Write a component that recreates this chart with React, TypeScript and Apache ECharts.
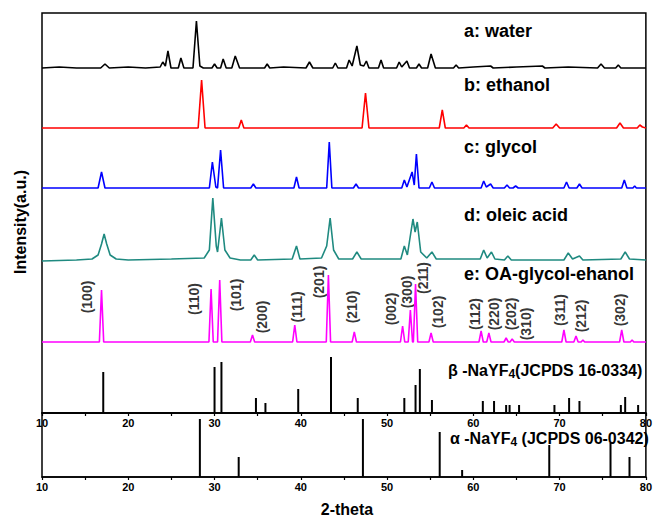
import React, { useEffect, useRef } from "react";
import * as echarts from "echarts";

// ---- Data (2-theta, intensity above each trace's own baseline) ----
const traceNames = ["a: water", "b: ethanol", "c: glycol", "d: oleic acid", "e: OA-glycol-ehanol"];
const traceColors = ["#000000", "#ff0000", "#0000ff", "#1f8a80", "#ff00ff"];
const baselines = [345, 285, 225, 153, 71];

const waterData: number[][] = [
  [10, 0], [12, 1], [14, 0], [16.8, 0], [17.3, 4], [17.8, 0], [20, 1], [22, 0], [23.7, 1], [24.0, 6], [24.3, 2],
  [24.6, 17], [24.95, 0], [25.8, 0], [26.1, 10], [26.45, 0], [27.5, 0], [27.9, 47], [28.3, 2], [28.7, 0],
  [29.7, 0], [30.0, 4], [30.3, 0], [30.7, 0], [31.0, 9], [31.35, 0], [32.0, 0], [32.4, 12], [32.9, 0],
  [35.8, 0], [36.1, 4], [36.4, 0], [38, 1], [40.6, 0], [41.0, 6], [41.4, 0], [43.7, 0], [44.0, 5], [44.3, 0],
  [45.3, 0], [45.6, 8], [45.95, 2], [46.5, 22], [46.9, 3], [47.3, 2], [47.6, 7], [47.9, 0], [49.0, 0],
  [49.3, 8], [49.6, 0], [51.1, 0], [51.4, 6], [51.7, 1], [52.3, 7], [52.6, 0], [53.4, 0], [53.7, 4], [54.0, 0],
  [54.7, 0], [55.1, 14], [55.6, 0], [57.7, 0], [58, 3], [58.3, 0], [60, 1], [62, 2], [62.3, 0], [65, 1],
  [68, 2], [68.3, 0], [71, 1], [74.4, 0], [74.8, 4], [75.2, 0], [76.5, 0], [76.8, 3], [77.1, 0], [80, 0],
];
const ethanolData: number[][] = [
  [10, 0], [28.1, 0], [28.5, 48], [28.9, 0], [32.8, 0], [33.1, 8], [33.4, 0], [47.1, 0], [47.5, 35], [47.9, 0],
  [56.05, 0], [56.4, 18], [56.75, 0], [58.9, 0], [59.2, 3], [59.5, 0], [69.2, 0], [69.6, 4], [70, 0],
  [76.6, 0], [77, 5], [77.4, 0], [79.0, 0], [79.3, 3], [79.6, 1], [80, 0],
];
const glycolData: number[][] = [
  [10, 0], [16.5, 0], [16.9, 16], [17.3, 0], [29.4, 0], [29.75, 26], [30.15, 1], [30.35, 0], [30.7, 38],
  [31.05, 0], [34.2, 0], [34.5, 4], [34.8, 0], [39.2, 0], [39.5, 11], [39.8, 0], [43.0, 0], [43.3, 46],
  [43.6, 0], [46.1, 0], [46.4, 4], [46.7, 0], [51.7, 0], [52.0, 8], [52.3, 1], [52.9, 16], [53.15, 3],
  [53.4, 34], [53.7, 0], [54.9, 0], [55.2, 6], [55.5, 0], [60.9, 0], [61.2, 7], [61.5, 1], [62.0, 4],
  [62.3, 0], [63.6, 0], [63.9, 3], [64.2, 0], [64.6, 0], [64.9, 2], [65.2, 0], [70.5, 0], [70.8, 6],
  [71.1, 0], [72.0, 0], [72.3, 4], [72.6, 0], [77.2, 0], [77.5, 8], [77.8, 0], [78.5, 0], [78.7, 2],
  [78.9, 0], [80, 0],
];
const oleicData: number[][] = [
  [10, -1], [14, 0], [15.8, 1], [16.5, 5], [16.9, 16], [17.2, 26], [17.5, 16], [17.9, 5], [18.6, 1], [20, 0],
  [25, 1], [28.8, 2], [29.4, 10], [29.8, 62], [30.2, 14], [30.35, 8], [30.8, 42], [31.2, 10], [31.8, 2],
  [33, 0], [34.2, 0], [34.6, 5], [35.0, 0], [39.0, 1], [39.5, 14], [39.9, 1], [42.4, 2], [43.0, 14],
  [43.4, 42], [43.8, 10], [44.4, 1], [46.0, 1], [46.5, 8], [47.0, 1], [51.6, 1], [52.0, 14], [52.35, 5],
  [53.0, 41], [53.25, 28], [53.5, 38], [53.9, 8], [54.6, 2], [55.2, 8], [55.7, 1], [60.8, 1], [61.2, 10],
  [61.6, 2], [62.1, 8], [62.5, 1], [63.6, 0], [64.0, 4], [64.4, 0], [70.5, 0], [71.0, 7], [71.5, 1],
  [72.3, 4], [72.7, 0], [77.1, 1], [77.6, 8], [78.1, 1], [80, 0],
];
const oaData: number[][] = [
  [10, 0], [16.65, 0], [16.9, 52], [17.15, 0], [29.35, 0], [29.6, 53], [29.85, 0], [30.35, 0], [30.6, 62],
  [30.85, 0], [34.15, 0], [34.4, 7], [34.65, 0], [39.05, 0], [39.3, 17], [39.55, 0], [42.95, 0], [43.2, 67],
  [43.45, 0], [45.95, 0], [46.2, 10], [46.45, 0], [51.55, 0], [51.8, 16], [52.05, 0], [52.45, 0], [52.7, 32],
  [52.95, 0], [53.05, 0], [53.3, 58], [53.55, 0], [54.85, 0], [55.1, 9], [55.35, 0], [60.65, 0], [60.9, 11],
  [61.15, 0], [61.55, 0], [61.8, 9], [62.05, 0], [63.55, 0], [63.8, 4], [64.05, 0], [64.25, 0], [64.5, 3],
  [64.75, 0], [70.25, 0], [70.5, 12], [70.75, 0], [71.65, 0], [71.9, 6], [72.15, 0], [72.5, 0], [72.7, 2],
  [72.9, 0], [76.95, 0], [77.2, 12], [77.45, 0], [78.2, 0], [78.4, 2], [78.6, 0], [80, 0],
];
const traces = [waterData, ethanolData, glycolData, oleicData, oaData];

// beta-NaYF4 reference lines (JCPDS 16-0334)
const betaPos = [17.1, 30.0, 30.8, 34.8, 35.9, 39.7, 43.5, 46.6, 52.0, 53.3, 53.8, 55.2, 61.1, 62.4, 63.8, 64.2, 65.3, 69.4, 71.1, 72.3, 77.1, 77.6, 79.1];
const betaInt = [41, 46, 51, 15, 10, 24, 56, 15, 15, 28, 44, 13, 12, 12, 8, 8, 8, 8, 15, 12, 8, 16, 8];

// alpha-NaYF4 reference lines (JCPDS 06-0342)
const alphaPos = [28.3, 32.8, 47.2, 56.1, 58.7, 68.8, 75.9, 78.1];
const alphaInt = [58, 20, 58, 45, 7, 32, 34, 20];

// Miller index labels and their anchor positions (2-theta, height)
const hklLabels = ["(100)", "(110)", "(101)", "(200)", "(111)", "(201)", "(210)", "(002)", "(300)", "(211)", "(102)", "(112)", "(220)", "(202)", "(310)", "(311)", "(212)", "(302)"];
const hklX = [15.2, 27.6, 32.5, 35.5, 39.6, 42.1, 45.9, 50.4, 52.3, 54.2, 55.9, 60.2, 62.4, 64.4, 66.1, 70.0, 72.5, 77.0];
const hklY = [116, 114, 118, 96, 106, 131, 106, 104, 121, 135, 101, 99, 99, 99, 89, 103, 97, 103];

const xTicks = { min: 10, max: 80, step: 5 };

const FONT = "'Liberation Sans', Arial, Helvetica, sans-serif";

export default function App() {
  const ref = useRef<HTMLDivElement>(null);
  useEffect(() => {
    if (!ref.current) return;
    const chart = echarts.init(ref.current, undefined, { renderer: "svg" });

    const mkX = (gridIndex: number) => ({
      type: "value",
      gridIndex,
      min: xTicks.min,
      max: xTicks.max,
      interval: xTicks.step,
      axisLine: { show: true, lineStyle: { color: "#000", width: 1.5 } },
      axisTick: { show: true, inside: false, length: 3, lineStyle: { color: "#000", width: 1.2 } },
      axisLabel: {
        show: true,
        margin: 4,
        color: "#000",
        fontSize: 11,
        fontWeight: "bold",
        fontFamily: FONT,
        showMinLabel: true,
        showMaxLabel: true,
        formatter: (v: number) => (v % 10 === 0 ? String(v) : ""),
      },
      splitLine: { show: false },
    });
    const mkY = (gridIndex: number, max: number) => ({
      type: "value",
      gridIndex,
      min: 0,
      max,
      axisLine: { show: false },
      axisTick: { show: false },
      axisLabel: { show: false },
      splitLine: { show: false },
    });

    const lineSeries = traces.map((t, i) => ({
      type: "line",
      name: traceNames[i],
      xAxisIndex: 0,
      yAxisIndex: 0,
      data: t.map((p) => [p[0], p[1] + baselines[i]]),
      showSymbol: false,
      symbol: "none",
      lineStyle: { color: traceColors[i], width: 1.6 },
      silent: true,
      z: 3,
    }));

    const textStyle = (text: string, x: number, y: number, size: number) => ({
      type: "text",
      x,
      y,
      style: {
        text,
        fill: "#000",
        fontSize: size,
        fontWeight: "bold",
        fontFamily: FONT,
        verticalAlign: "middle",
        align: "left",
      },
    });

    const labelY = [31, 85, 147, 215, 274];
    const graphics: any[] = traceNames.map((n, i) => textStyle(n, 464, labelY[i], 18));
    const richRef = (main: string, rest: string, x: number, y: number) => ({
      type: "text",
      x,
      y,
      style: {
        text: `{m|${main}}{s|4}{m|${rest}}`,
        fill: "#000",
        fontFamily: FONT,
        fontWeight: "bold",
        verticalAlign: "middle",
        rich: {
          m: { fontSize: 16, fontWeight: "bold", fontFamily: FONT, fill: "#000", lineHeight: 20, verticalAlign: "middle" },
          s: { fontSize: 12, fontWeight: "bold", fontFamily: FONT, fill: "#000", lineHeight: 20, verticalAlign: "bottom", padding: [6, 0, 0, 0] },
        },
      },
    });
    graphics.push(richRef("β -NaYF", "(JCPDS 16-0334)", 448, 370));
    graphics.push(richRef("α -NaYF", " (JCPDS 06-0342)", 450, 438));
    graphics.push({
      type: "text",
      x: 20,
      y: 222,
      rotation: Math.PI / 2,
      style: {
        text: "Intensity(a.u.)",
        fill: "#000",
        fontSize: 16,
        fontWeight: "bold",
        fontFamily: FONT,
        align: "center",
        verticalAlign: "middle",
      },
    });
    graphics.push({
      type: "text",
      x: 347,
      y: 509,
      style: {
        text: "2-theta",
        fill: "#000",
        fontSize: 16,
        fontWeight: "bold",
        fontFamily: FONT,
        align: "center",
        verticalAlign: "middle",
      },
    });

    const option: any = {
      animation: false,
      backgroundColor: "#fff",
      grid: [
        { left: 42, top: 13, width: 606, height: 400, show: true, borderColor: "#000", borderWidth: 1.5, backgroundColor: "transparent" },
        { left: 42, top: 413, width: 606, height: 64, show: true, borderColor: "#000", borderWidth: 1.5, backgroundColor: "transparent" },
      ],
      xAxis: [mkX(0), mkX(1)],
      yAxis: [mkY(0, 400), mkY(1, 64)],
      series: [
        ...lineSeries,
        {
          type: "bar",
          name: "beta",
          xAxisIndex: 0,
          yAxisIndex: 0,
          barWidth: 2,
          data: betaPos.map((p, i) => [p, betaInt[i]]),
          itemStyle: { color: "#000" },
          silent: true,
        },
        {
          type: "bar",
          name: "alpha",
          xAxisIndex: 1,
          yAxisIndex: 1,
          barWidth: 2,
          data: alphaPos.map((p, i) => [p, alphaInt[i]]),
          itemStyle: { color: "#000" },
          silent: true,
        },
        {
          type: "scatter",
          name: "hkl",
          xAxisIndex: 0,
          yAxisIndex: 0,
          symbolSize: 1,
          itemStyle: { color: "transparent" },
          data: hklLabels.map((h, i) => [hklX[i], hklY[i], h]),
          label: {
            show: true,
            position: "inside",
            rotate: 90,
            formatter: (p: any) => p.data[2],
            color: "#000",
            fontSize: 14,
            fontWeight: "bold",
            fontFamily: FONT,
          },
          silent: true,
        },
      ],
      graphic: graphics,
    };
    chart.setOption(option);
    return () => chart.dispose();
  }, []);
  return <div ref={ref} style={{ position: "fixed", left: 0, top: 0, width: 655, height: 517, background: "#fff" }} />;
}
